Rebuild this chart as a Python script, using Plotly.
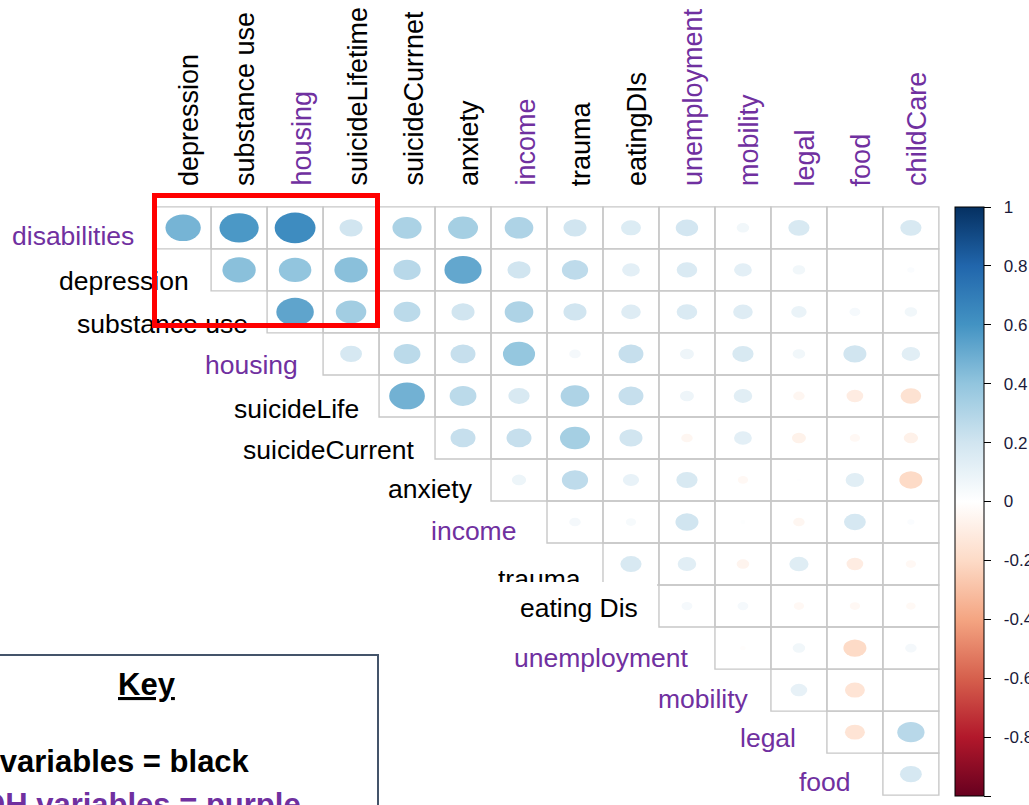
import plotly.graph_objects as go

# ---------------- data ----------------
col_labels = ["depression", "substance use", "housing", "suicideLifetime", "suicideCurrnet",
              "anxiety", "income", "trauma", "eatingDIs", "unemployment", "mobility",
              "legal", "food", "childCare"]
col_purple = [False, False, True, False, False, False, True, False, False, True, True, True, True, True]

row_labels = ["disabilities", "depression", "substance use", "housing", "suicideLife",
              "suicideCurrent", "anxiety", "income", "trauma", "eating Dis", "unemployment",
              "mobility", "legal", "food"]
row_purple = [True, False, False, True, False, False, False, True, False, False, True, True, True, True]

# upper-triangle correlations: row i holds columns i..13
r_disabilities = [0.47, 0.58, 0.63, 0.20, 0.32, 0.34, 0.31, 0.20, 0.15, 0.19, 0.06, 0.17, 0.00, 0.17]
r_depression = [0.42, 0.40, 0.42, 0.28, 0.52, 0.20, 0.26, 0.12, 0.16, 0.12, 0.06, 0.00, 0.02]
r_substance = [0.53, 0.35, 0.27, 0.20, 0.31, 0.20, 0.145, 0.16, 0.145, 0.09, 0.045, 0.06]
r_housing = [0.18, 0.27, 0.235, 0.39, 0.05, 0.235, 0.074, 0.17, 0.06, 0.20, 0.13]
r_suicideLife = [0.48, 0.27, 0.17, 0.31, 0.235, 0.074, 0.13, -0.05, -0.105, -0.16]
r_suicideCurrent = [0.235, 0.235, 0.34, 0.20, -0.05, 0.12, -0.074, -0.04, -0.077]
r_anxiety = [0.077, 0.26, 0.10, 0.17, -0.04, 0.005, 0.13, -0.20]
r_income = [0.05, 0.04, 0.20, 0.01, -0.05, 0.18, 0.02]
r_trauma = [0.17, 0.13, -0.06, 0.14, -0.105, -0.04]
r_eating = [0.045, 0.045, -0.04, -0.04, -0.035]
r_unemployment = [-0.012, 0.06, -0.20, 0.05]
r_mobility = [0.105, -0.15, 0.00]
r_legal = [-0.15, 0.28]
r_food = [0.18]
rows_values = [r_disabilities, r_depression, r_substance, r_housing, r_suicideLife,
               r_suicideCurrent, r_anxiety, r_income, r_trauma, r_eating, r_unemployment,
               r_mobility, r_legal, r_food]

cb_tickvals = [1, 0.8, 0.6, 0.4, 0.2, 0, -0.2, -0.4, -0.6, -0.8, -1]
cb_ticktext = ["1", "0.8", "0.6", "0.4", "0.2", "0", "-0.2", "-0.4", "-0.6", "-0.8", "-1"]

palette = ["#67001F", "#B2182B", "#D6604D", "#F4A582", "#FDDBC7", "#FFFFFF",
           "#D1E5F0", "#92C5DE", "#4393C3", "#2166AC", "#053061"]

# ---------------- layout constants ----------------
W, H = 1029, 805
ML, MR, MT, MB = 154, 89, 206, 9
PW, PH = W - ML - MR, H - MT - MB
PAD = 0.52
N = 14
FONT = "Liberation Sans, Arial, sans-serif"
PURPLE = "#7030A0"
GRID = "#C8C8C8"


def px_x(px):
    return (px - ML) / PW


def px_y(py):
    return (H - MB - py) / PH


def hex2rgb(h):
    h = h.lstrip("#")
    return tuple(int(h[i:i + 2], 16) for i in (0, 2, 4))


def color_of(v):
    t = (v + 1) / 2 * (len(palette) - 1)
    i = min(int(t), len(palette) - 2)
    f = t - i
    a, b = hex2rgb(palette[i]), hex2rgb(palette[i + 1])
    c = [round(a[k] + (b[k] - a[k]) * f) for k in range(3)]
    return "rgb(%d,%d,%d)" % tuple(c)


shapes = []
xs, ys, cs, hov = [], [], [], []
for i, vals in enumerate(rows_values):
    for k, v in enumerate(vals):
        j = i + k
        shapes.append(dict(type="rect", xref="x", yref="y", x0=j - 0.5, x1=j + 0.5,
                           y0=i - 0.5, y1=i + 0.5, line=dict(color=GRID, width=1.4),
                           fillcolor="rgba(0,0,0,0)", layer="above"))
        xs.append(j); ys.append(i); cs.append(v)
        hov.append("%s / %s: %.2f" % (row_labels[i], col_labels[j], v))
for i, vals in enumerate(rows_values):
    for k, v in enumerate(vals):
        j = i + k
        if abs(v) > 0:
            rad = 0.46 * abs(v) ** 0.5
            shapes.append(dict(type="circle", xref="x", yref="y", x0=j - rad, x1=j + rad,
                               y0=i - rad, y1=i + rad, fillcolor=color_of(v),
                               line=dict(width=0), layer="above"))

# key box
shapes.append(dict(type="rect", xref="paper", yref="paper",
                   x0=px_x(-20), x1=px_x(378), y0=px_y(655), y1=px_y(830),
                   line=dict(color="#44546A", width=2), fillcolor="white", layer="above"))

fig = go.Figure()
fig.add_trace(go.Scatter(
    x=xs, y=ys, mode="markers", text=hov, hoverinfo="text",
    marker=dict(size=20, color=cs, opacity=0, cmin=-1, cmax=1,
                colorscale=[[k / (len(palette) - 1), c] for k, c in enumerate(palette)],
                showscale=True,
                colorbar=dict(x=px_x(955), xanchor="left", xpad=0, thickness=29,
                              len=589 / PH, lenmode="fraction", y=px_y(501.5), yanchor="middle",
                              ypad=0, outlinecolor="black", outlinewidth=1,
                              tickvals=cb_tickvals,
                              ticktext=["\u00a0\u00a0" + t for t in cb_ticktext],
                              ticks="outside", ticklen=7, tickcolor="black", tickwidth=1,
                              tickfont=dict(family=FONT, size=17, color="#1a1a3a"))),
    showlegend=False))

annotations = []
# column labels
for j, lab in enumerate(col_labels):
    cx = ML + (j + PAD) * PW / (N - 1 + 2 * PAD)
    annotations.append(dict(xref="paper", yref="paper", x=px_x(cx + 6), y=px_y(188),
                            text=lab, showarrow=False, textangle=-90,
                            xanchor="center", yanchor="bottom",
                            font=dict(family=FONT, size=27,
                                      color=PURPLE if col_purple[j] else "black")))

# row labels (right end x, baseline y in pixels)
row_right_px = [133, 188, 247, 297, 358, 413, 472, 515, 580, 637, 687, 748, 795, 850]
row_base_px = [245, 290, 333, 374, 418, 459, 498, 540, 588, 617, 667, 708, 747, 791]
for i, lab in enumerate(row_labels):
    if lab == "eating Dis":
        # white text box that covers part of the label above
        annotations.append(dict(xref="paper", yref="paper", x=px_x(490), y=px_y(582),
                                xanchor="left", yanchor="top", text=" ", showarrow=False,
                                width=167, height=50, bgcolor="white", borderpad=0,
                                borderwidth=0))
    annotations.append(dict(xref="paper", yref="paper", x=px_x(row_right_px[i] + 3),
                            y=px_y(row_base_px[i] - 9), xanchor="right", yanchor="middle",
                            text=lab, showarrow=False,
                            font=dict(family=FONT, size=26.5,
                                      color=PURPLE if row_purple[i] else "black")))

# red highlight box
annotations.append(dict(xref="paper", yref="paper", x=px_x(152), y=px_y(193),
                        xanchor="left", yanchor="top", text=" ", showarrow=False,
                        width=218, height=125, borderpad=0, borderwidth=5,
                        bordercolor="#FF0000", bgcolor="rgba(0,0,0,0)"))

# key text
annotations.append(dict(xref="paper", yref="paper", x=px_x(147), y=px_y(684),
                        xanchor="center", yanchor="middle", text="<b><u>Key</u></b>",
                        showarrow=False, font=dict(family=FONT, size=31, color="black")))
annotations.append(dict(xref="paper", yref="paper", x=px_x(-59), y=px_y(761),
                        xanchor="left", yanchor="middle", text="<b>MH variables = black</b>",
                        showarrow=False, font=dict(family=FONT, size=31, color="black")))
annotations.append(dict(xref="paper", yref="paper", x=px_x(-64), y=px_y(804),
                        xanchor="left", yanchor="middle", text="<b>SDOH variables = purple</b>",
                        showarrow=False, font=dict(family=FONT, size=31, color=PURPLE)))

fig.update_layout(
    width=W, height=H, margin=dict(l=ML, r=MR, t=MT, b=MB, autoexpand=False),
    paper_bgcolor="white", plot_bgcolor="white",
    xaxis=dict(range=[-PAD, N - 1 + PAD], visible=False, fixedrange=True),
    yaxis=dict(range=[N - 1 + PAD, -PAD], visible=False, fixedrange=True),
    shapes=shapes, annotations=annotations, showlegend=False,
    font=dict(family=FONT),
)

fig.write_html("out.html", config={"responsive": False, "displayModeBar": False},
               post_script="document.body.style.margin='0';document.body.style.overflow='hidden';")
